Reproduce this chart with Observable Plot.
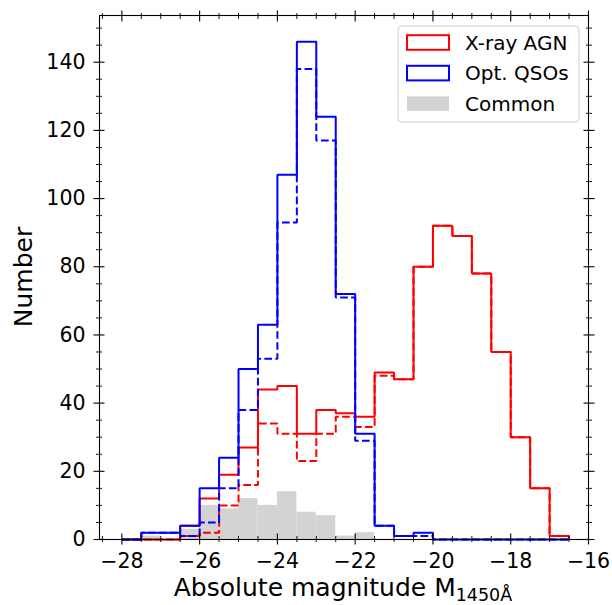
<!DOCTYPE html>
<html><head><meta charset="utf-8">
<script src="https://cdn.jsdelivr.net/npm/d3@7"></script>
<script src="https://cdn.jsdelivr.net/npm/@observablehq/plot@0.6"></script>
<style>body{margin:0;background:#fff} svg{display:block}</style>
</head><body><div id="chart"></div>
<script>
// Bin edges (width 0.5 mag)
const binEdges = [-28,-27.5,-27,-26.5,-26,-25.5,-25,-24.5,-24,-23.5,-23,-22.5,-22,-21.5,-21,-20.5,-20,-19.5,-19,-18.5,-18,-17.5,-17,-16.5];
// Counts per bin
const xrayAll    = [0,0,0,4,12,19,27,44,45,31,38,37,36,49,47,80,92,89,78,55,30,15,1];
const xrayDashed = [0,0,0,1,2,10,16,34,31,23,31,36,33,48,47,80,92,89,78,55,30,15,1];
const qsoAll     = [0,2,2,4,15,24,50,63,107,146,124,72,31,4,1,2,0,0,0,0,0,0,0];
const qsoDashed  = [0,2,2,1,5,15,38,53,93,138,117,71,29,4,1,1,0,0,0,0,0,0,0];
const common     = [0,1,0,3,10,9,12,10,14,8,7,1,2,0,0,0,0,0,0,0,0,0,0];
// Axis ticks and labels
const xTicks = [-28,-26,-24,-22,-20,-18,-16];
const yTicks = [0,20,40,60,80,100,120,140];
const legendLabels = ["X-ray AGN","Opt. QSOs","Common"];
const colors = {red:"#ff0000", blue:"#0000ff", grey:"#d3d3d3"};

const xMinor = d3.range(-28.5, -15.99, 0.5).filter(v => Math.abs(v % 2) > 1e-9);
const yMinor = d3.range(0, 151, 5).filter(v => v % 20 !== 0);

function stepPoints(counts) {
  const pts = [{x: binEdges[0], y: 0}];
  counts.forEach((c, i) => {
    pts.push({x: binEdges[i], y: c});
    pts.push({x: binEdges[i + 1], y: c});
  });
  pts.push({x: binEdges[counts.length], y: 0});
  return pts;
}
const commonBars = common.map((c, i) => ({x1: binEdges[i], x2: binEdges[i + 1], c}));

const lineOpts = (stroke, dashed) => ({
  x: "x", y: "y", stroke, strokeWidth: 2, curve: "linear",
  strokeLinejoin: "miter", strokeLinecap: "butt",
  strokeDasharray: dashed ? "7.7,3.3" : null
});
const fmt = d => d < 0 ? "\u2212" + Math.abs(d) : String(d);
const tk = (fn, ticks, o) => fn(ticks, {fill: "none", label: null, stroke: "black", ...o});

const chart = Plot.plot({
  width: 612, height: 605,
  marginLeft: 99, marginRight: 24, marginTop: 15, marginBottom: 66,
  x: {domain: [-28.575, -16]},
  y: {domain: [0, 153.7]},
  style: {fontFamily: "DejaVu Sans", fontSize: "20.5px", background: "white", color: "black"},
  marks: [
    Plot.rectY(commonBars, {x1: "x1", x2: "x2", y: "c", fill: colors.grey}),
    Plot.line(stepPoints(xrayAll), lineOpts(colors.red, false)),
    Plot.line(stepPoints(xrayDashed), lineOpts(colors.red, true)),
    Plot.line(stepPoints(qsoAll), lineOpts(colors.blue, false)),
    Plot.line(stepPoints(qsoDashed), lineOpts(colors.blue, true)),
    Plot.frame({stroke: "black", strokeWidth: 1.1}),
    // major ticks (in-out) on all sides
    tk(Plot.axisX, xTicks, {anchor: "bottom", tickSize: 11, dy: -5.5, strokeWidth: 1.1}),
    tk(Plot.axisX, xTicks, {anchor: "top", tickSize: 11, dy: 5.5, strokeWidth: 1.1}),
    tk(Plot.axisY, yTicks, {anchor: "left", tickSize: 11, dx: 5.5, strokeWidth: 1.1}),
    tk(Plot.axisY, yTicks, {anchor: "right", tickSize: 11, dx: -5.5, strokeWidth: 1.1}),
    // minor ticks
    tk(Plot.axisX, xMinor, {anchor: "bottom", tickSize: 6, dy: -3, strokeWidth: 0.9}),
    tk(Plot.axisX, xMinor, {anchor: "top", tickSize: 6, dy: 3, strokeWidth: 0.9}),
    tk(Plot.axisY, yMinor, {anchor: "left", tickSize: 6, dx: 3, strokeWidth: 0.9}),
    tk(Plot.axisY, yMinor, {anchor: "right", tickSize: 6, dx: -3, strokeWidth: 0.9}),
    // tick labels
    Plot.axisX(xTicks, {anchor: "bottom", tickSize: 0, tickPadding: 14, tickFormat: fmt, fontSize: 20.5, fill: "black", label: null}),
    Plot.axisY(yTicks, {anchor: "left", tickSize: 0, tickPadding: 14, tickFormat: fmt, fontSize: 20.5, fill: "black", label: null})
  ]
});

const svg = d3.select(chart);
// axis labels
const xl = svg.append("text").attr("x", 343).attr("y", 596)
  .attr("text-anchor", "middle").attr("font-family", "DejaVu Sans").attr("font-size", 25).attr("fill", "black");
xl.append("tspan").text("Absolute magnitude M");
xl.append("tspan").attr("font-size", 17.5).attr("dy", 5).text("1450\u00C5");
svg.append("text").attr("transform", "translate(31.5,277) rotate(-90)")
  .attr("text-anchor", "middle").attr("font-family", "DejaVu Sans").attr("font-size", 25).attr("fill", "black")
  .text("Number");

// legend
const lg = svg.append("g");
lg.append("rect").attr("x", 398).attr("y", 26).attr("width", 181).attr("height", 96)
  .attr("rx", 4).attr("fill", "white").attr("fill-opacity", 0.8).attr("stroke", "#cccccc").attr("stroke-width", 1);
const entries = [
  {label: legendLabels[0], stroke: colors.red, fill: "none"},
  {label: legendLabels[1], stroke: colors.blue, fill: "none"},
  {label: legendLabels[2], stroke: "none", fill: colors.grey}
];
entries.forEach((e, i) => {
  const cy = 42.5 + i * 30.6;
  lg.append("rect").attr("x", 407).attr("y", cy - 7.3).attr("width", 42).attr("height", 14.6)
    .attr("fill", e.fill).attr("stroke", e.stroke).attr("stroke-width", 2);
  lg.append("text").attr("x", 465).attr("y", cy + 7.3).attr("text-anchor", "start")
    .attr("font-family", "DejaVu Sans").attr("font-size", 20).attr("fill", "black").text(e.label);
});

document.getElementById("chart").appendChild(chart);
</script>
</body></html>
